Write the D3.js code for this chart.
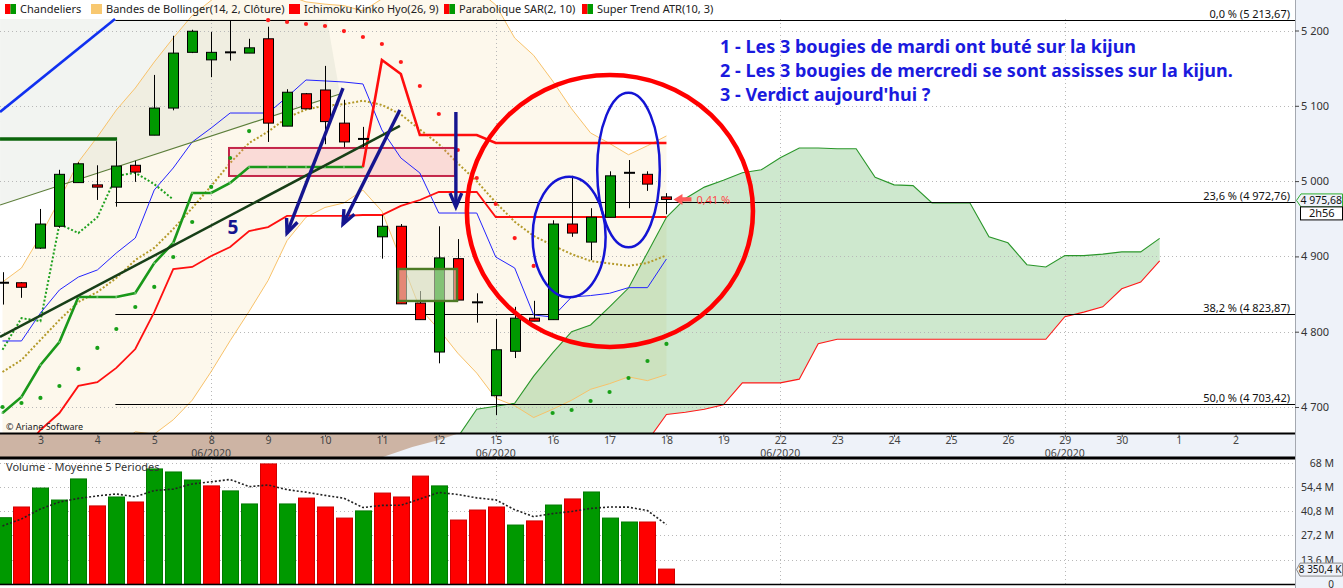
<!DOCTYPE html>
<html>
<head>
<meta charset="utf-8">
<script src="https://cdn.jsdelivr.net/npm/d3@7/dist/d3.min.js"></script>
<style>
html,body{margin:0;padding:0;background:#fff;}
svg{display:block;}
text{font-family:"Noto Sans","DejaVu Sans",sans-serif;}
</style>
</head>
<body>
<svg id="chart" width="1343" height="588"></svg>
<script>
// ---------------- DATA ----------------
// candles (index 0 .. 35), 3 candles per trading day
const opens  = [4865,4865,4911,4940,4998,4995,4992,5021,5061,5097,5171,5161,5171,5170,5189,5073,5116,5121,5077,5056,4926,4940,4838,4773,4897,4839,4715,4774,4818,4816,4943,4919,4952,5011,5009,4979];
const highs  = [4879,4866,4963,5015,5025,5021,5053,5027,5141,5193,5201,5198,5213.67,5189,5205,5122,5117,5153,5108,5072,4955,4943,4854,4940,4923,4851,4817,4833,4841,4948,5007,4964,5013,5028,5013,4984];
const lows   = [4836,4845,4910,4938,4998,4975,4966,4999,5061,5094,5170,5138,5160,5170,5052,5073,5096,5049,5045,5045,4897,4837,4816,4758,4842,4812,4689.4,4765,4814,4816,4926,4895,4952,4964,4987,4956];
const closes = [4865,4859,4943,5009,5023,4992,5020,5012,5097,5170,5199,5171,5171,5177,5077,5118,5096,5079,5052,5056,4940,4837,4816,4898,4842,4839,4776,4818,4814,4943,4931,4952,5007,5011,4996,4975.68];
// volumes in millions
const volumes = [37.1,43.1,53.7,47.0,58.8,43.7,48.7,45.9,64.4,62.7,58.2,54.9,52.1,44.8,67.2,44.8,48.1,43.1,36.9,40.9,50.9,48.7,60.4,54.9,35.8,41.4,43.1,33.0,35.3,44.2,47.6,51.5,36.9,34.7,34.7,8.3504];
const volumeMA5 = [32.5,36.4,42.0,45.9,47.9,49.3,50.4,48.8,52.3,53.1,56.0,57.2,58.5,54.5,55.4,52.8,51.4,49.6,48.0,42.8,44.0,44.1,47.6,51.2,50.1,48.2,47.1,41.6,37.7,39.4,40.6,42.3,43.1,43.0,41.1,33.2];
// Bollinger (14, 2)
const bbUpper = [4866,4884.6,4927.1,4974.9,5025.4,5058.6,5094.4,5123.6,5158.2,5190,5220,5240,5260,5274,5264,5247,5238,5235,5233,5226,5242,5281,5306,5295,5276,5255,5234,5190,5167,5133,5096,5064,5050,5035,5047,5060];
const bbMid   = [4746.5,4762.4,4789,4815.5,4839.4,4852.7,4871.3,4895.2,4911.2,4936.4,4964.3,4993.5,5024,5050.6,5065.7,5084.2,5095.1,5100.1,5102.2,5106.8,5101.1,5088.6,5068.5,5049.1,5023.6,4999.9,4971.6,4946,4927.2,4914.7,4903,4893.9,4890.6,4887.4,4891.4,4901.4];
const bbLower = [4627,4640,4651,4656,4653,4647,4648,4667,4664,4683,4709,4747,4788,4827,4868,4921,4952,4965,4971,4988,4960,4896,4831,4803,4771.5,4745,4711.6,4701.7,4686,4697,4709,4723.5,4731,4740,4735,4743];
// Ichimoku (26, 9)
const tenkan = [4787.7,4787.7,4824.8,4855.4,4872.6,4882,4904.5,4924.4,4988.2,5017.4,5051.9,5070.5,5090.4,5090.4,5090.4,5111.7,5134.3,5133,5131.6,5129,5067.9,5030.7,5010.8,4957.6,4957.6,4957.6,4899.2,4884.6,4822.2,4819.5,4846.1,4848,4851,4858.5,4858.5,4896.6];
const kijun  = [4616,4640,4669.5,4692,4728,4733,4752,4777,4826,4883,4886,4900.5,4912.5,4933.7,4939,4953.7,4953.7,4953.7,4953.7,4955,4955,4967,4974.9,4985.5,4985.5,4985.5,4952.3,4952.3,4952.3,4952.3,4952.3,4952.3,4952.3,4952.3,4952.3,4952.3];
const cloudStart = 22; // senkou spans begin at this index (already shifted 26 forward)
const senkouA = [4616,4636,4660,4697,4701,4705,4741,4772,4800,4809,4833,4858,4905,4952,4977,4992,5001,5011,5015,5031,5044,5044,5043,5043,5005,4995,4994,4971,4971,4971,4926,4918,4889,4886,4901,4901,4903,4906,4906,4924];
const senkouB = [4600,4600,4610,4615,4620,4625,4630,4630,4635,4640,4645,4650,4655,4690,4693,4697,4703,4732,4732,4732,4737,4784,4790,4790,4790,4790,4790,4790,4790,4790,4790,4790,4790,4790,4820,4826,4833,4857,4866,4894];
const chikouShift = 26;
// Parabolic SAR (2, 10)
const sar = [4700,4705.3,4712,4727.9,4750.5,4778.4,4803.6,4832.8,4859.4,4899.2,4945.7,4992.2,5030.7,5066.5,5213.67,5211.3,5208.6,5206,5199.3,5191.4,5182.1,5158.2,5126.3,5089.1,5041.3,5004.1,4969.6,4924.4,4887.3,4692,4696,4708,4719.9,4738.5,4761.1,4783.7];
// Super Trend ATR (10, 3)
const superTrendUp = [4692,4713.3,4755.8,4786.3,4846.1,4846.1,4846.1,4851.4,4891.2,4917.8,4984.2,4984.2,4997.5,5018.7,5018.7,5018.7,5018.7,5018.7,5018.7,5018.7]; // idx 0..19
const superTrendDownStart = 20;
const superTrendDown = [5160.8,5142.2,5061.2,5061.2,5061.2,5061.2,5050.6,5050.6,5050.6,5050.6,5050.6,5050.6,5050.6,5050.6,5050.6,5050.6]; // idx 20..35
// Fibonacci retracement
const fibLevels = [0.0, 23.6, 38.2, 50.0];
const fibValues = [5213.67, 4972.76, 4823.87, 4703.42];
const fibStartIdx = 5.95;
// axes
const priceTicks = [4700,4800,4900,5000,5100,5200];
const volumeTicks = [0,13.6,27.2,40.8,54.4,68];
const dayIdx  = [2,5,8,11,14,17,20,23,26,29,32,35,38,41,44,47,50,53,56,59,62,65];
const dayText = ["3","4","5","8","9","10","11","12","15","16","17","18","19","22","23","24","25","26","29","30","1","2"];
const monthIdx = [11,26,41,56];
const monthText = ["06/2020","06/2020","06/2020","06/2020"];
// hand-drawn annotations, in (index, price) units
const blueLine      = [[-0.13,5091.8],[5.93,5215.3]];
const greenHLine    = [[-0.13,5055.9],[6.04,5055.9]];
const oliveLine     = [[-0.13,4968.3],[17.79,5115.7]];
const darkGreenLine = [[-0.13,4793.0],[20.95,5073.2]];
const grayZone      = [[-0.13,5215.3],[17.1,5215.3],[17.79,5115.7],[-0.13,4968.3]];
const pinkBox  = [[11.94,5044.0],[23.85,5006.8]];
const oliveBox = [[20.85,4883.3],[23.96,4840.8]];
const arrows = [
  [[17.95,5123.6],[15.0,4931.1]],
  [[20.95,5094.4],[17.95,4943.0]],
  [[23.9,5091.8],[23.9,4965.6]]
];
const label5 = [12.15,4939];
const bigCircle = {c:[32.02,4960.3], r:[7.54,180.6]};
const ellipses = [
  {c:[29.87,4925.8], r:[1.924,80.1]},
  {c:[33.0,5014.7], r:[1.65,102.7]}
];
const notes = [
  "1 - Les 3 bougies de mardi ont buté sur la kijun",
  "2 - Les 3 bougies de mercredi se sont assisses sur la kijun.",
  "3 - Verdict aujourd'hui ?"
];
const dayChangeText = "0,41 %";
const timeLeft = "2h56";
const legendItems = [
  {colors:["#ff0000","#009900"], text:"Chandeliers"},
  {colors:["#f8c870"], text:"Bandes de Bollinger(14, 2, Clôture)"},
  {colors:["#ff0000"], text:"Ichimoku Kinko Hyo(26, 9)"},
  {colors:["#ff0000","#009900"], text:"Parabolique SAR(2, 10)"},
  {colors:["#ff0000","#009900"], text:"Super Trend ATR(10, 3)"}
];
const legendX = [5,91,289,444,582];

// ---------------- CHART ----------------
const svg = d3.select("#chart");
const W = 1343, H = 588, PR = 1295, PB = 433, VT = 459, VB = 584;
const x = d3.scaleLinear().domain([0,65]).range([2.5, 2.5 + 18.97*65]);
const y = d3.scaleLinear().domain([4700,5200]).range([407,30.5]);
const yv = d3.scaleLinear().domain([0,68]).range([VB,462.5]);
const loc = d3.formatLocale({decimal:",", thousands:"\u00a0", grouping:[3], currency:["",""]});
const fP0 = loc.format(",.0f"), fP2 = loc.format(",.2f"), fL = loc.format(".1f");
const fV = v => v === 0 ? "0" : loc.format(",.1~f")(v) + " M";
const GREEN = "#009900", RED = "#ff0000";

const defs = svg.append("defs");
defs.append("clipPath").attr("id","clipMain").append("rect").attr("x",0).attr("y",0).attr("width",PR).attr("height",PB);
defs.append("clipPath").attr("id","clipVol").append("rect").attr("x",0).attr("y",VT).attr("width",PR).attr("height",VB-VT);

svg.append("rect").attr("width",W).attr("height",H).attr("fill","#fff");
svg.append("rect").attr("x",PR).attr("y",0).attr("width",W-PR).attr("height",H).attr("fill","#eef2f9");
svg.append("rect").attr("x",0).attr("y",PB).attr("width",PR).attr("height",VT-PB).attr("fill","#eef2f9");
// cloud spill in the time axis band
svg.append("path")
  .attr("d", `M0,${PB}L${x(24.1)},${PB}L${x(23.0)},${PB+7}L${x(21.6)},${PB+14}L${x(19.9)},${VT-1}L0,${VT-1}Z`)
  .attr("fill","#cdb4a4");

const g = svg.append("g").attr("clip-path","url(#clipMain)");

// Bollinger fill
const idx36 = d3.range(36);
g.append("path").datum(idx36)
  .attr("d", d3.area().x(i=>x(i)).y0(i=>y(bbLower[i])).y1(i=>y(bbUpper[i])))
  .attr("fill","#fdf8ec");
// gray zone
g.append("path").attr("d", "M" + grayZone.map(p=>[x(p[0]),y(p[1])].join(",")).join("L") + "Z")
  .attr("fill","rgba(175,190,170,0.17)");

// cloud fill
const cIdx = d3.range(senkouA.length);
g.append("path").datum(cIdx)
  .attr("d", d3.area().x(k=>x(cloudStart+k)).y0(k=>y(senkouB[k])).y1(k=>y(senkouA[k])))
  .attr("fill","rgba(50,160,50,0.24)");

// grid
g.selectAll("line.hg").data(priceTicks).join("line")
  .attr("x1",0).attr("x2",PR).attr("y1",d=>Math.round(y(d))+0.5).attr("y2",d=>Math.round(y(d))+0.5)
  .attr("stroke","#b8b8b8").attr("stroke-dasharray","1,3");
g.selectAll("line.vg").data(monthIdx).join("line")
  .attr("x1",d=>Math.round(x(d))+0.5).attr("x2",d=>Math.round(x(d))+0.5).attr("y1",19).attr("y2",PB)
  .attr("stroke","#b8b8b8").attr("stroke-dasharray","1,3");

// senkou lines
g.append("path").datum(cIdx).attr("d", d3.line().x(k=>x(cloudStart+k)).y(k=>y(senkouA[k])))
  .attr("fill","none").attr("stroke","#2a962a").attr("stroke-width",1.1);
g.append("path").datum(cIdx).attr("d", d3.line().x(k=>x(cloudStart+k)).y(k=>y(senkouB[k])))
  .attr("fill","none").attr("stroke","#ff1a1a").attr("stroke-width",1.1);

// Bollinger lines
[bbUpper,bbLower].forEach(arr=>{
  g.append("path").datum(idx36).attr("d", d3.line().x(i=>x(i)).y(i=>y(arr[i])))
   .attr("fill","none").attr("stroke","#f8c26a").attr("stroke-width",1);
});
g.append("path").datum(idx36).attr("d", d3.line().x(i=>x(i)).y(i=>y(bbMid[i])))
  .attr("fill","none").attr("stroke","#b49a2a").attr("stroke-width",2).attr("stroke-dasharray","2,2");

// Fibonacci lines
g.selectAll("line.fib").data(fibValues).join("line")
  .attr("x1",x(fibStartIdx)).attr("x2",PR).attr("y1",d=>Math.round(y(d))+0.5).attr("y2",d=>Math.round(y(d))+0.5)
  .attr("stroke","#000").attr("stroke-width",1);

// pink box
g.append("rect").attr("x",x(pinkBox[0][0])).attr("y",y(pinkBox[0][1]))
  .attr("width",x(pinkBox[1][0])-x(pinkBox[0][0])).attr("height",y(pinkBox[1][1])-y(pinkBox[0][1]))
  .attr("fill","rgba(240,120,140,0.22)").attr("stroke","#c4264a").attr("stroke-width",2);

// chikou (closes shifted back 26)
const chik = d3.range(closes.length - chikouShift);
g.append("path").datum(chik).attr("d", d3.line().x(i=>x(i)).y(i=>y(closes[i+chikouShift])))
  .attr("fill","none").attr("stroke","#1ea01e").attr("stroke-width",2).attr("stroke-dasharray","2,2");

// tenkan / kijun
g.append("path").datum(idx36).attr("d", d3.line().x(i=>x(i)).y(i=>y(tenkan[i])))
  .attr("fill","none").attr("stroke","#2424ff").attr("stroke-width",1);
g.append("path").datum(idx36).attr("d", d3.line().x(i=>x(i)).y(i=>y(kijun[i])))
  .attr("fill","none").attr("stroke","#ff1010").attr("stroke-width",1.8);

// super trend
const stUpIdx = d3.range(superTrendUp.length);
g.append("path").datum(stUpIdx).attr("d", d3.line().x(i=>x(i)).y(i=>y(superTrendUp[i])))
  .attr("fill","none").attr("stroke","#1a981a").attr("stroke-width",2.6);
g.selectAll("circle.stu").data(stUpIdx).join("circle")
  .attr("cx",i=>x(i)).attr("cy",i=>y(superTrendUp[i])).attr("r",1.1).attr("fill","#6cc46c");
const stDnIdx = d3.range(superTrendDown.length);
const stDnPts = [[x(superTrendDownStart-1), y(superTrendUp[superTrendUp.length-1])]]
  .concat(stDnIdx.map(k=>[x(superTrendDownStart+k), y(superTrendDown[k])]));
g.append("path").attr("d", d3.line()(stDnPts))
  .attr("fill","none").attr("stroke","#ff0d0d").attr("stroke-width",2.6);

// SAR
g.selectAll("circle.sar").data(idx36).join("circle")
  .attr("cx",i=>x(i)).attr("cy",i=>y(sar[i])).attr("r",2.1)
  .attr("fill",i=> sar[i] < closes[i] ? "#18a018" : "#ff1a1a");

// trend lines
function seg(p, color, w){
  g.append("line").attr("x1",x(p[0][0])).attr("y1",y(p[0][1])).attr("x2",x(p[1][0])).attr("y2",y(p[1][1]))
   .attr("stroke",color).attr("stroke-width",w).attr("stroke-linecap","butt");
}
seg(oliveLine,"#5c7e3a",1.1);
seg(darkGreenLine,"#173f17",2.5);
seg(greenHLine,"#0b650b",3.5);
seg(blueLine,"#1030f0",2.6);

// candles
const cg = g.append("g");
idx36.forEach(i=>{
  const cx = Math.round(x(i)) + 0.5;
  const o = opens[i], c = closes[i];
  cg.append("line").attr("x1",cx).attr("x2",cx).attr("y1",y(highs[i])).attr("y2",y(lows[i])).attr("stroke","#000").attr("stroke-width",1);
  if (o === c) {
    cg.append("line").attr("x1",cx-5.5).attr("x2",cx+5.5).attr("y1",y(o)).attr("y2",y(o)).attr("stroke","#000").attr("stroke-width",2);
  } else {
    const top = y(Math.max(o,c)), bot = y(Math.min(o,c));
    cg.append("rect").attr("x",cx-5).attr("y",top).attr("width",10).attr("height",Math.max(bot-top,1.5))
      .attr("fill", c > o ? GREEN : RED).attr("stroke","#000").attr("stroke-width",1);
  }
});

// olive box
g.append("rect").attr("x",x(oliveBox[0][0])).attr("y",y(oliveBox[0][1]))
  .attr("width",x(oliveBox[1][0])-x(oliveBox[0][0])).attr("height",y(oliveBox[1][1])-y(oliveBox[0][1]))
  .attr("fill","rgba(212,220,190,0.62)").attr("stroke","#4d7a25").attr("stroke-width",2.4);

// arrows
const NAVY = "#15158f";
arrows.forEach(a=>{
  const x1=x(a[0][0]), y1=y(a[0][1]), x2=x(a[1][0]), y2=y(a[1][1]);
  g.append("line").attr("x1",x1).attr("y1",y1).attr("x2",x2).attr("y2",y2).attr("stroke",NAVY).attr("stroke-width",3.4);
  const ang = Math.atan2(y2-y1, x2-x1), L = 15, s = 0.4;
  const p1 = [x2 - L*Math.cos(ang-s), y2 - L*Math.sin(ang-s)];
  const p2 = [x2 - L*Math.cos(ang+s), y2 - L*Math.sin(ang+s)];
  g.append("path").attr("d",`M${p1[0]},${p1[1]}L${x2},${y2}L${p2[0]},${p2[1]}`)
   .attr("fill","none").attr("stroke",NAVY).attr("stroke-width",3.4).attr("stroke-linejoin","miter");
});
g.append("text").attr("x",x(label5[0])).attr("y",y(label5[1])+7).attr("text-anchor","middle")
  .attr("font-family","Liberation Sans, Arial, sans-serif").attr("font-weight","bold").attr("font-size",19)
  .attr("fill",NAVY).text("5");

// circle & ellipses
g.append("ellipse").attr("cx",x(bigCircle.c[0])).attr("cy",y(bigCircle.c[1]))
  .attr("rx",x(bigCircle.c[0]+bigCircle.r[0])-x(bigCircle.c[0])).attr("ry",y(bigCircle.c[1]-bigCircle.r[1])-y(bigCircle.c[1]))
  .attr("fill","none").attr("stroke","#ff0000").attr("stroke-width",4.6);
ellipses.forEach(e=>{
  g.append("ellipse").attr("cx",x(e.c[0])).attr("cy",y(e.c[1]))
   .attr("rx",x(e.c[0]+e.r[0])-x(e.c[0])).attr("ry",y(e.c[1]-e.r[1])-y(e.c[1]))
   .attr("fill","none").attr("stroke","#1414d4").attr("stroke-width",2.5);
});

// last price arrow + daily change
const lx = x(35), ly = y(closes[35]);
g.append("path").attr("d",`M${lx+7},${ly}L${lx+16},${ly-5.5}L${lx+16},${ly-2.2}L${lx+25},${ly-2.2}L${lx+25},${ly+2.2}L${lx+16},${ly+2.2}L${lx+16},${ly+5.5}Z`)
  .attr("fill","#ff5a5a");
g.append("text").attr("x",lx+30).attr("y",ly+4.5).attr("font-size",11).attr("fill","#ff4a4a").text(dayChangeText);

// Fibonacci labels
svg.selectAll("text.fibl").data(fibValues).join("text")
  .attr("x",1290).attr("y",d=>Math.round(y(d))-2.5).attr("text-anchor","end").attr("font-size",11).attr("fill","#111")
  .text((d,i)=>`${fL(fibLevels[i])} % (${fP2(d)})`);

// copyright
svg.append("text").attr("x",6).attr("y",430).attr("font-size",9).attr("fill","#222").text("© Ariane Software");

// notes
svg.selectAll("text.note").data(notes).join("text")
  .attr("x",720).attr("y",(d,i)=>52.5+i*24).attr("font-family","Liberation Sans, Arial, sans-serif")
  .attr("font-weight","bold").attr("font-size",18).attr("fill","#1a1ade").text(d=>d);

// legend
legendItems.forEach((it,k)=>{
  const lx0 = legendX[k];
  if (it.colors.length === 2) {
    svg.append("rect").attr("x",lx0).attr("y",4).attr("width",5.5).attr("height",10).attr("fill",it.colors[0]);
    svg.append("rect").attr("x",lx0+5.5).attr("y",4).attr("width",5.5).attr("height",10).attr("fill",it.colors[1]);
  } else {
    svg.append("rect").attr("x",lx0).attr("y",4).attr("width",11).attr("height",10).attr("fill",it.colors[0]);
  }
  svg.append("text").attr("x",lx0+15).attr("y",13).attr("font-size",11).attr("fill","#222").text(it.text);
});

// axis lines
svg.append("line").attr("x1",0).attr("x2",PR).attr("y1",PB+0.5).attr("y2",PB+0.5).attr("stroke","#000").attr("stroke-width",2);
svg.append("line").attr("x1",0).attr("x2",PR).attr("y1",VT-1).attr("y2",VT-1).attr("stroke","#000").attr("stroke-width",3);
svg.append("line").attr("x1",PR+0.5).attr("x2",PR+0.5).attr("y1",0).attr("y2",H).attr("stroke","#a4a8b0").attr("stroke-width",1);

// price axis
const ay = svg.append("g").attr("transform",`translate(${PR},0)`)
  .call(d3.axisRight(y).tickValues(priceTicks).tickFormat(fP0).tickSize(4).tickPadding(2));
ay.select(".domain").remove();
ay.selectAll("text").attr("font-size",11).attr("fill","#333").attr("font-family","Noto Sans, sans-serif");
ay.selectAll("line").attr("stroke","#444");

// time axis
const ax = svg.append("g").attr("transform",`translate(0,${PB+1})`)
  .call(d3.axisBottom(x).tickValues(dayIdx).tickFormat((d,i)=>dayText[i]).tickSize(3).tickPadding(0));
ax.select(".domain").remove();
ax.selectAll("text").attr("font-size",10.5).attr("fill","#444").attr("font-family","Noto Sans, sans-serif");
ax.selectAll("line").attr("stroke","#555");
svg.selectAll("text.month").data(monthIdx).join("text")
  .attr("x",d=>x(d)).attr("y",456.5).attr("text-anchor","middle").attr("font-size",10.5).attr("fill","#444")
  .text((d,i)=>monthText[i]);

// price tag
const ty = y(closes[35]) + 1;
svg.append("path").attr("d",`M${PR+1.5},${ty}L${PR+6},${ty-6.5}L${W-0.5},${ty-6.5}L${W-0.5},${ty+6.5}L${PR+6},${ty+6.5}Z`)
  .attr("fill","#eef2f9").attr("stroke","#2fae2f").attr("stroke-width",1);
svg.append("text").attr("x",W-1).attr("y",ty+3.8).attr("text-anchor","end").attr("font-size",10.5).attr("fill","#111").text(fP2(closes[35]));
svg.append("rect").attr("x",PR+5.5).attr("y",ty+6.5).attr("width",W-PR-6).attr("height",13).attr("fill","#fff").attr("stroke","#000");
svg.append("text").attr("x",(PR+5.5+W)/2).attr("y",ty+17).attr("text-anchor","middle").attr("font-size",11).attr("fill","#111").text(timeLeft);

// ---------------- VOLUME ----------------
const vg = svg.append("g").attr("clip-path","url(#clipVol)");
vg.selectAll("line.vhg").data(volumeTicks.filter(d=>d>0)).join("line")
  .attr("x1",0).attr("x2",PR).attr("y1",d=>Math.round(yv(d))+0.5).attr("y2",d=>Math.round(yv(d))+0.5)
  .attr("stroke","#b8b8b8").attr("stroke-dasharray","1,3");
vg.selectAll("line.vvg").data(monthIdx).join("line")
  .attr("x1",d=>Math.round(x(d))+0.5).attr("x2",d=>Math.round(x(d))+0.5).attr("y1",VT).attr("y2",VB)
  .attr("stroke","#b8b8b8").attr("stroke-dasharray","1,3");
vg.selectAll("rect.vb").data(idx36).join("rect")
  .attr("x",i=>Math.round(x(i)-8)+0.5).attr("y",i=>yv(volumes[i])).attr("width",16).attr("height",i=>VB-yv(volumes[i]))
  .attr("fill",i=> (i===0 || closes[i] >= closes[i-1]) ? GREEN : RED)
  .attr("stroke",i=> (i===0 || closes[i] >= closes[i-1]) ? "#007a00" : "#d00000").attr("stroke-width",1);
vg.append("path").datum(idx36).attr("d", d3.line().x(i=>x(i)).y(i=>yv(volumeMA5[i])))
  .attr("fill","none").attr("stroke","#222").attr("stroke-width",1.6).attr("stroke-dasharray","2,2");
svg.append("line").attr("x1",0).attr("x2",PR).attr("y1",VB+0.5).attr("y2",VB+0.5).attr("stroke","#000").attr("stroke-width",1.5);
svg.append("text").attr("x",6).attr("y",471).attr("font-size",11).attr("fill","#333").text("Volume  - Moyenne 5 Periodes");
svg.selectAll("text.vt").data(volumeTicks).join("text")
  .attr("x",1334).attr("y",d=> d === 0 ? 587.5 : yv(d)+4).attr("text-anchor","end")
  .attr("font-size",d=> d === 0 ? 10 : 10.5).attr("fill","#333").text(fV);
const vty = yv(volumes[35]) + 0.5;
svg.append("path").attr("d",`M${PR+1.5},${vty}L${PR+5},${vty-6.5}L${W-0.5},${vty-6.5}L${W-0.5},${vty+6.5}L${PR+5},${vty+6.5}Z`)
  .attr("fill","#eef2f9").attr("stroke","#8a8a8a").attr("stroke-width",1);
svg.append("text").attr("x",W-1.5).attr("y",vty+3.5).attr("text-anchor","end").attr("font-size",10).attr("fill","#111")
  .text(loc.format(",.1f")(volumes[35]*1000) + " K");
</script>
</body>
</html>
